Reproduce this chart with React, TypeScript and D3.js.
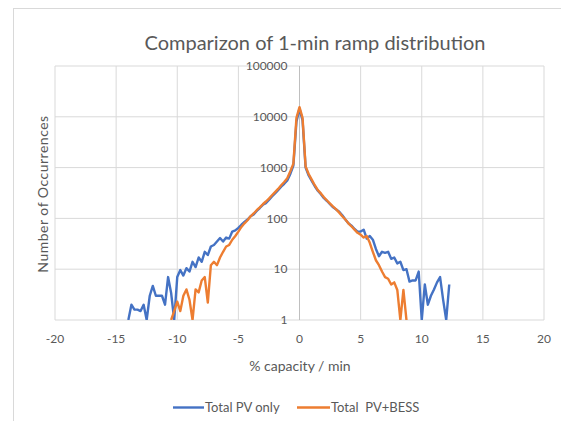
import React from 'react';
import * as d3 from 'd3';

const chartTitle = 'Comparizon of 1-min ramp distribution';
const xAxisTitle = '% capacity / min';
const yAxisTitle = 'Number of Occurrences';
const xTicks = [-20, -15, -10, -5, 0, 5, 10, 15, 20];
const yTicks = [1, 10, 100, 1000, 10000, 100000];
const seriesNames = ['Total PV only', 'Total  PV+BESS'];
const seriesColors = ['#4472C4', '#ED7D31'];

const binStep = 0.25;
const pvOnlyStart = -14;
const pvOnly = [
  1, 2, 1.6, 1.6, 1.5, 2, 1, 3, 4.7, 3, 3, 3, 2, 7, 3.4, 1,
  7, 9.6, 7.5, 10.5, 9, 14, 11, 17, 14, 22, 19, 28, 30, 35, 41, 35,
  42, 40, 55, 58, 65, 75, 85, 95, 110, 120, 140, 160, 185, 200, 230, 270,
  310, 360, 420, 480, 560, 750, 1100, 8000, 14500, 8500, 1000, 700, 550, 430,
  350, 300, 250, 220, 190, 165, 150, 135, 115, 95, 80, 72, 62, 55, 55, 60,
  40, 45, 38, 25, 18, 22, 21, 22, 16, 17, 13, 14, 9.6, 10, 5.7, 6,
  6, 9, 1, 5, 2, 3, 4, 5.5, 7, 2.5, 1, 5,
];

const pvBessStart = -10.5;
const pvBess = [
  1, 1.5, 2.3, 1.5, 3, 4, 2.5, 1, 4, 3.5, 6, 7, 2.2, 12, 14, 12,
  17, 22, 28, 30, 38, 45, 55, 68, 80, 92, 110, 125, 145, 165, 190, 215,
  245, 285, 330, 380, 450, 520, 620, 850, 1200, 9500, 15500, 9500, 1050, 750,
  580, 450, 360, 310, 260, 225, 195, 170, 150, 130, 110, 95, 80, 70, 60, 52,
  48, 42, 45, 33, 22, 15, 12, 9, 7, 6.5, 5, 5.5, 3.9, 1, 3.9, 1,
];

const W = 561;
const H = 421;
const plotLeft = 55;
const plotRight = 544;
const plotTop = 66;
const plotBottom = 320;

export default function App() {
  const x = d3.scaleLinear().domain([-20, 20]).range([plotLeft, plotRight]);
  const y = d3.scaleLog().domain([1, 100000]).range([plotBottom, plotTop]);

  const toPoints = (vals: number[], start: number) =>
    vals.map((v, i) => [start + i * binStep, Math.max(1, v)] as [number, number]);

  const line = d3
    .line<[number, number]>()
    .x((d) => x(d[0]))
    .y((d) => y(d[1]));

  const series = [
    toPoints(pvOnly, pvOnlyStart),
    toPoints(pvBess, pvBessStart),
  ];

  const grid = '#d9d9d9';
  const textColor = '#595959';
  const font = 'Lato, "Open Sans", sans-serif';

  return (
    <svg
      width={W}
      height={H}
      style={{ position: 'absolute', left: 0, top: 0, background: '#fff' }}
      fontFamily={font}
    >
      <rect x={13.5} y={8.5} width={560} height={420} fill="#fff" stroke="#d9d9d9" />
      <text x={315} y={50} textAnchor="middle" fontSize={20} fill={textColor}>
        {chartTitle}
      </text>
      {/* grid */}
      {xTicks.map((t) => (
        <line key={'gx' + t} x1={x(t)} x2={x(t)} y1={plotTop} y2={plotBottom} stroke={grid} strokeWidth={1} />
      ))}
      {yTicks.map((t) => (
        <line key={'gy' + t} x1={plotLeft} x2={plotRight} y1={y(t)} y2={y(t)} stroke={grid} strokeWidth={1} />
      ))}
      <line x1={x(0)} x2={x(0)} y1={plotTop} y2={plotBottom} stroke="#bfbfbf" strokeWidth={1} />
      {/* y tick labels */}
      {yTicks.map((t) => (
        <text key={'ty' + t} x={x(0) - 12} y={y(t)} dy="0.35em" textAnchor="end" fontSize={12} fill={textColor}>
          {t}
        </text>
      ))}
      {/* x tick labels */}
      {xTicks.map((t) => (
        <text key={'tx' + t} x={x(t)} y={339} dy="0.35em" textAnchor="middle" fontSize={12} fill={textColor}>
          {t}
        </text>
      ))}
      <text x={300} y={366} dy="0.35em" textAnchor="middle" fontSize={14} fill={textColor}>
        {xAxisTitle}
      </text>
      <text
        transform={`translate(43,194) rotate(-90)`}
        dy="0.35em"
        textAnchor="middle"
        fontSize={14}
        letterSpacing={0.5}
        fill={textColor}
      >
        {yAxisTitle}
      </text>
      <defs>
        <clipPath id="plotClip">
          <rect x={plotLeft} y={plotTop - 5} width={plotRight - plotLeft} height={plotBottom - plotTop + 5} />
        </clipPath>
      </defs>
      <g clipPath="url(#plotClip)">
        {series.map((pts, i) => (
          <path
            key={'s' + i}
            d={line(pts) || ''}
            fill="none"
            stroke={seriesColors[i]}
            strokeWidth={2.4}
            strokeLinejoin="round"
          />
        ))}
      </g>
      {/* legend */}
      <line x1={173} x2={204} y1={407.5} y2={407.5} stroke={seriesColors[0]} strokeWidth={2.4} />
      <text x={205} y={407.5} dy="0.35em" fontSize={13} fill={textColor}>
        {seriesNames[0]}
      </text>
      <line x1={297} x2={330} y1={407.5} y2={407.5} stroke={seriesColors[1]} strokeWidth={2.4} />
      <text x={331} y={407.5} dy="0.35em" fontSize={13} fill={textColor} style={{ whiteSpace: 'pre' }}>
        {seriesNames[1]}
      </text>
    </svg>
  );
}
